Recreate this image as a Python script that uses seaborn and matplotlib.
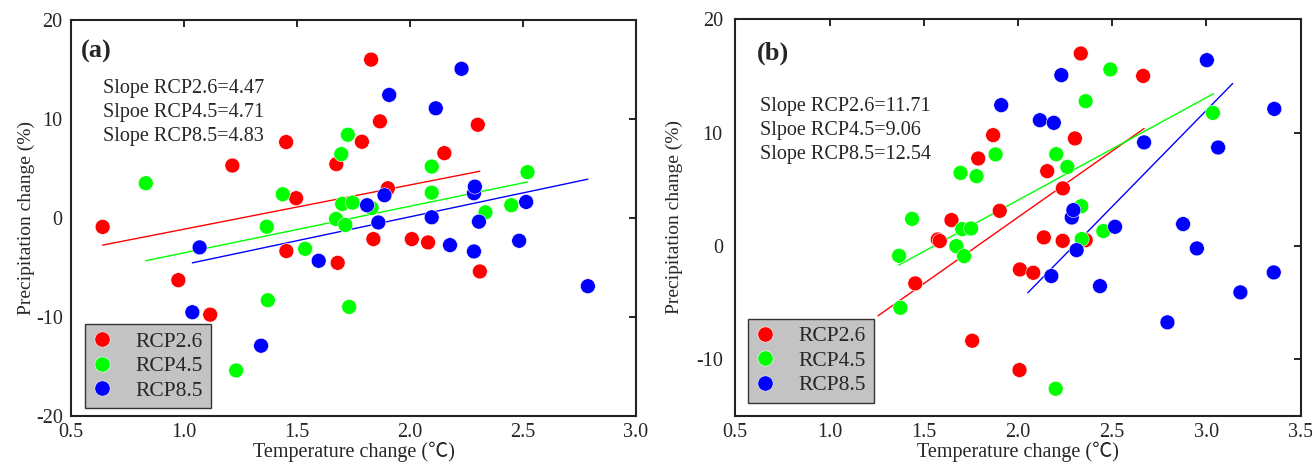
import matplotlib
matplotlib.use('Agg')
import matplotlib.pyplot as plt
from matplotlib.lines import Line2D
import seaborn as sns
import numpy as np
import pandas as pd

sns.set_style('white')
plt.rcParams['font.family'] = ['Liberation Serif', 'Noto Sans CJK SC', 'DejaVu Sans']
plt.rcParams['axes.unicode_minus'] = False

SCEN = ['RCP2.6', 'RCP4.5', 'RCP8.5']
COLORS = {'RCP2.6': '#ff0000', 'RCP4.5': '#00ff00', 'RCP8.5': '#0000ff'}

# ---- panel (a) ----
a_t26 = [0.64, 0.975, 1.116, 1.214, 1.452, 1.453, 1.496, 1.674, 1.68, 1.787,
         1.828, 1.838, 1.867, 1.902, 2.008, 2.08, 2.152, 2.30, 2.309]
a_p26 = [-0.9, -6.28, -9.76, 5.3, 7.67, -3.34, 2.0, 5.44, -4.53, 7.7,
         16.0, -2.13, 9.76, 3.0, -2.13, -2.47, 6.55, 9.42, -5.4]
a_t45 = [0.831, 1.231, 1.366, 1.371, 1.437, 1.536, 1.673, 1.696, 1.70, 1.714,
         1.725, 1.731, 1.746, 1.83, 2.096, 2.096, 2.334, 2.448, 2.52]
a_p45 = [3.51, -15.4, -0.88, -8.31, 2.4, -3.11, -0.1, 6.45, 1.42, -0.7,
         8.41, -8.98, 1.55, 1.01, 5.2, 2.56, 0.57, 1.29, 4.63]
a_t85 = [1.037, 1.069, 1.341, 1.596, 1.81, 1.86, 1.887, 1.908, 2.096, 2.114,
         2.177, 2.228, 2.283, 2.287, 2.283, 2.305, 2.483, 2.514, 2.787]
a_p85 = [-9.52, -2.97, -12.9, -4.32, 1.29, -0.45, 2.3, 12.43, 0.07, 11.08,
         -2.74, 15.07, 2.5, 3.17, -3.38, -0.37, -2.3, 1.62, -6.89]
a_slope = [4.47, 4.71, 4.83]
a_icpt = [-5.60, -8.23, -9.54]
a_xmin = [0.64, 0.831, 1.037]
a_xmax = [2.309, 2.52, 2.787]
a_text = ['Slope RCP2.6=4.47', 'Slpoe RCP4.5=4.71', 'Slope RCP8.5=4.83']

# ---- panel (b) ----
b_t26 = [1.455, 1.574, 1.585, 1.647, 1.757, 1.789, 1.868, 1.903, 2.008, 2.01,
         2.081, 2.137, 2.155, 2.237, 2.238, 2.302, 2.333, 2.359, 2.664]
b_p26 = [-3.32, 0.56, 0.42, 2.27, -8.38, 7.71, 9.77, 3.09, -10.97, -2.09,
         -2.38, 0.74, 6.59, 0.44, 5.07, 9.48, 16.98, 0.5, 15.0]
b_t45 = [1.369, 1.376, 1.438, 1.673, 1.695, 1.704, 1.714, 1.751, 1.78, 1.881,
         2.20, 2.203, 2.262, 2.336, 2.338, 2.359, 2.453, 2.49, 3.034]
b_p45 = [-0.88, -5.47, 2.38, -0.03, 6.44, 1.47, -0.91, 1.53, 6.15, 8.07,
         -12.62, 8.09, 6.97, 3.5, 0.59, 12.77, 1.3, 15.57, 11.74]
b_t85 = [1.911, 2.116, 2.177, 2.19, 2.23, 2.285, 2.294, 2.311, 2.435, 2.515,
         2.669, 2.793, 2.876, 2.949, 3.002, 3.062, 3.18, 3.357, 3.36]
b_p85 = [12.42, 11.09, -2.67, 10.86, 15.07, 2.5, 3.15, -0.38, -3.56, 1.68,
         9.13, -6.76, 1.92, -0.23, 16.39, 8.68, -4.11, -2.35, 12.09]
b_slope = [11.71, 9.06, 17.0]
b_icpt = [-20.90, -14.09, -39.03]
b_xmin = [1.257, 1.367, 2.052]
b_xmax = [2.669, 3.038, 3.139]
b_text = ['Slope RCP2.6=11.71', 'Slpoe RCP4.5=9.06', 'Slope RCP8.5=12.54']


def to_df(ts, ps):
    rows = []
    for s, t, p in zip(SCEN, ts, ps):
        rows += [(s, ti, pi) for ti, pi in zip(t, p)]
    return pd.DataFrame(rows, columns=['scenario', 'temp', 'precip'])


def panel(ax, df, slope, icpt, xmin, xmax, texts, tag, xlim, ylim, yticks,
          tag_xy, txt_xy, leg_xy, ylab_x, ypad):
    for s, k, b, x0, x1 in zip(SCEN, slope, icpt, xmin, xmax):
        xs = np.array([x0, x1])
        ax.plot(xs, k * xs + b, color=COLORS[s], lw=1.0, zorder=2)
    sns.scatterplot(data=df, x='temp', y='precip', hue='scenario',
                    palette=COLORS, hue_order=SCEN, s=115, edgecolor='white',
                    linewidth=0.4, legend=False, ax=ax, zorder=3)
    ax.set_xlim(*xlim)
    ax.set_ylim(*ylim)
    ax.set_xticks(np.arange(xlim[0], xlim[1] + 0.01, 0.5))
    ax.set_xticklabels([f'{v:.1f}' for v in np.arange(xlim[0], xlim[1] + 0.01, 0.5)])
    ax.set_yticks(yticks)
    ax.tick_params(direction='in', top=True, right=True, length=5, width=1.2,
                   labelsize=14.5, color='black')
    ax.tick_params(axis='x', pad=5)
    ax.tick_params(axis='y', pad=ypad)
    for sp in ax.spines.values():
        sp.set_linewidth(1.5)
        sp.set_color('#222222')
    ax.set_xlabel('Temperature change (℃)', fontsize=14.5, labelpad=0)
    ax.set_ylabel('Precipitation change (%)', fontsize=14)
    ax.yaxis.set_label_coords(ylab_x, 0.5)
    ax.text(tag_xy[0], tag_xy[1], tag, transform=ax.transAxes, fontsize=19,
            fontweight='bold', va='center', ha='left')
    for i, t in enumerate(texts):
        ax.text(txt_xy[0], txt_xy[1] - i * 0.0606, t, transform=ax.transAxes,
                fontsize=14.5, va='center', ha='left')
    handles = [Line2D([], [], marker='o', ls='none', markersize=11,
                      markerfacecolor=COLORS[s], markeredgecolor='white',
                      markeredgewidth=0.4, label=s) for s in SCEN]
    leg = ax.legend(handles=handles, loc='lower left', bbox_to_anchor=leg_xy,
                    borderaxespad=0, fontsize=15.5, frameon=True, fancybox=False,
                    facecolor='#c3c3c3', edgecolor='#333333', framealpha=1,
                    handlelength=0.9, handletextpad=1.1, borderpad=0.35,
                    labelspacing=0.2)
    leg.get_frame().set_linewidth(1.0)


fig = plt.figure(figsize=(13.12, 4.65), dpi=100)
ax1 = fig.add_axes([71 / 1312, 1 - 416 / 465, 565 / 1312, 396 / 465])
ax2 = fig.add_axes([735.3 / 1312, 1 - 415.7 / 465, 565.4 / 1312, 396.4 / 465])

panel(ax1, to_df([a_t26, a_t45, a_t85], [a_p26, a_p45, a_p85]),
      a_slope, a_icpt, a_xmin, a_xmax, a_text, '(a)',
      (0.5, 3.0), (-20, 20), [-20, -10, 0, 10, 20],
      (0.017, 0.92), (0.056, 0.828), (0.025, 0.02), -0.063, 6.0)
panel(ax2, to_df([b_t26, b_t45, b_t85], [b_p26, b_p45, b_p85]),
      b_slope, b_icpt, b_xmin, b_xmax, b_text, '(b)',
      (0.5, 3.5), (-15, 20), [-10, 0, 10, 20],
      (0.038, 0.915), (0.044, 0.78), (0.0225, 0.033), -0.092, 9.0)

fig.savefig('out.png', dpi=100)
